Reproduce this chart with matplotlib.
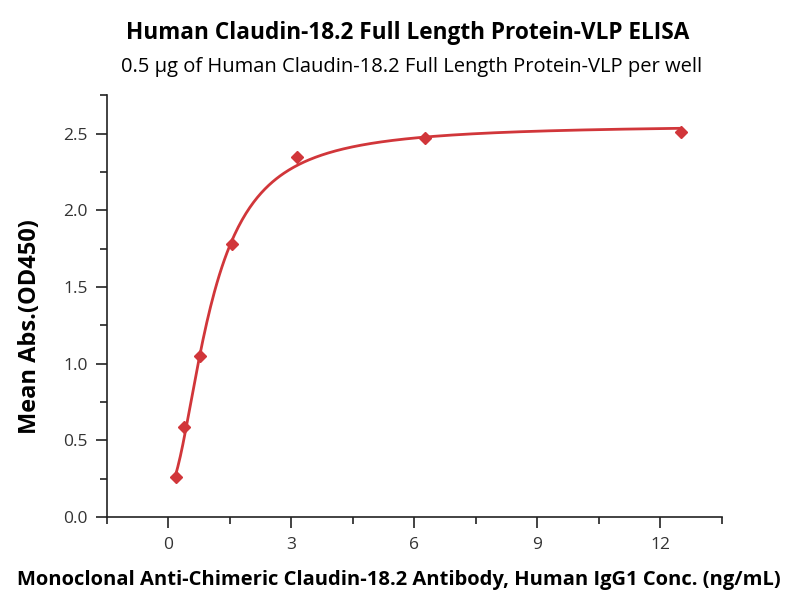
import numpy as np
import matplotlib
matplotlib.use("Agg")
import matplotlib.pyplot as plt
from matplotlib.ticker import MultipleLocator

plt.rcParams['font.family'] = ['Open Sans', 'DejaVu Sans']

# concentrations (ng/mL) and mean OD450
conc = [0.195, 0.39, 0.78, 1.56, 3.125, 6.25, 12.5]
od450 = [0.26, 0.59, 1.05, 1.78, 2.35, 2.47, 2.51]

x = np.array(conc)
y = np.array(od450)

# 4-parameter logistic fit: grid over slope/EC50, bottom/top by least squares
best = None
for b in np.linspace(0.8, 3.0, 111):
    for c in np.linspace(0.3, 3.0, 271):
        f = 1.0 / (1.0 + (x / c) ** b)
        A = np.column_stack([f, 1 - f])
        coef, *_ = np.linalg.lstsq(A, y, rcond=None)
        err = np.sum((A @ coef - y) ** 2)
        if best is None or err < best[0]:
            best = (err, b, c, coef)
_, b, c, (bottom, top) = best

xf = np.linspace(min(conc), max(conc), 400)
ff = 1.0 / (1.0 + (xf / c) ** b)
yf = bottom * ff + top * (1 - ff)

red = '#d1363a'
fig = plt.figure(figsize=(7.87, 5.91), dpi=100)
ax = fig.add_axes([0.136, 0.125, 0.781, 0.714])
ax.plot(xf, yf, color=red, lw=2)
ax.plot(conc, od450, 'D', color=red, markersize=6)

ax.set_xlim(-1.5, 13.5)
ax.set_ylim(0, 2.75)
ax.xaxis.set_major_locator(MultipleLocator(3))
ax.xaxis.set_minor_locator(MultipleLocator(1.5))
ax.yaxis.set_major_locator(MultipleLocator(0.5))
ax.yaxis.set_minor_locator(MultipleLocator(0.25))
ax.yaxis.set_major_formatter(matplotlib.ticker.FormatStrFormatter('%.1f'))

for s in ['top', 'right']:
    ax.spines[s].set_visible(False)
for s in ['left', 'bottom']:
    ax.spines[s].set_linewidth(1.2)
    ax.spines[s].set_color('#222222')
ax.tick_params(which='major', length=8, width=1.2, labelsize=12.5, colors='#222222', labelcolor='#333333', pad=6)
ax.tick_params(which='minor', length=5, width=1.2, colors='#222222')

fig.text(0.518, 0.945, 'Human Claudin-18.2 Full Length Protein-VLP ELISA',
         ha='center', va='center', fontsize=16.3, fontweight='bold')
fig.text(0.523, 0.886, '0.5 µg of Human Claudin-18.2 Full Length Protein-VLP per well',
         ha='center', va='center', fontsize=14.5)
fig.text(0.507, 0.018, 'Monoclonal Anti-Chimeric Claudin-18.2 Antibody, Human IgG1 Conc. (ng/mL)',
         ha='center', va='center', fontsize=14.5, fontweight='bold')
fig.text(0.038, 0.447, 'Mean Abs.(OD450)', rotation=90,
         ha='center', va='center', fontsize=17, fontweight='bold')

fig.savefig('out.png', dpi=100)
